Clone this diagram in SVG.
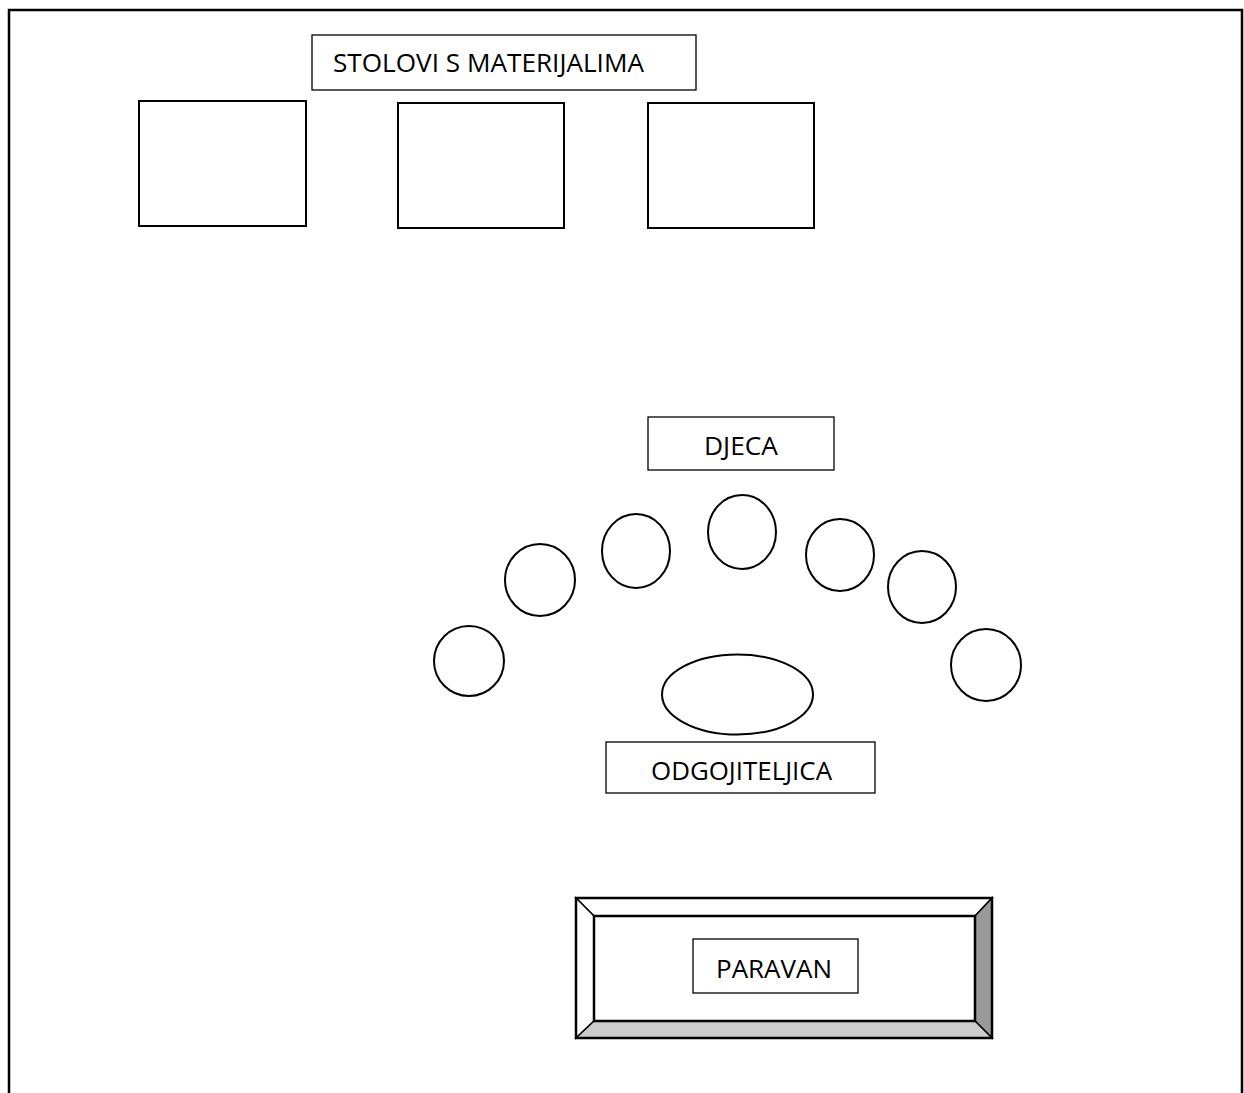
<svg xmlns="http://www.w3.org/2000/svg" width="1244" height="1093" viewBox="0 0 1244 1093">
<style>
.s{fill:#fff;stroke:#000;stroke-width:2}
.b{fill:#fff;stroke:#000;stroke-width:1.3}
.t{font-family:"Open Sans","Liberation Sans",sans-serif;font-size:25px;fill:#000;text-anchor:middle}
</style>
<rect width="1244" height="1093" fill="#fff"/>
<path d="M9 1093 V10 H1242 V1093" fill="none" stroke="#000" stroke-width="2.5"/>
<g id="label-stolovi"><rect class="b" x="312" y="35" width="384" height="55"/><text class="t" x="488.5" y="72" textLength="311" lengthAdjust="spacingAndGlyphs">STOLOVI S MATERIJALIMA</text></g>
<g id="table1"><rect class="s" x="139" y="101" width="167" height="125"/></g>
<g id="table2"><rect class="s" x="398" y="103" width="166" height="125"/></g>
<g id="table3"><rect class="s" x="648" y="103" width="166" height="125"/></g>
<g id="label-djeca"><rect class="b" x="648" y="417" width="186" height="53"/><text class="t" x="741" y="455" textLength="74" lengthAdjust="spacingAndGlyphs">DJECA</text></g>
<g id="child1"><ellipse class="s" cx="469" cy="661" rx="35" ry="35"/></g>
<g id="child2"><ellipse class="s" cx="540" cy="580" rx="35" ry="36"/></g>
<g id="child3"><ellipse class="s" cx="636" cy="551" rx="34" ry="37"/></g>
<g id="child4"><ellipse class="s" cx="742" cy="532" rx="34" ry="37"/></g>
<g id="child5"><ellipse class="s" cx="840" cy="555" rx="34" ry="36"/></g>
<g id="child6"><ellipse class="s" cx="922" cy="587" rx="34" ry="36"/></g>
<g id="child7"><ellipse class="s" cx="986" cy="665" rx="35" ry="36"/></g>
<g id="teacher"><ellipse class="s" cx="737.5" cy="694.5" rx="75.5" ry="40"/></g>
<g id="label-odgojiteljica"><rect class="b" x="606" y="742" width="269" height="51"/><text class="t" x="741.5" y="780" textLength="181" lengthAdjust="spacingAndGlyphs">ODGOJITELJICA</text></g>
<g id="paravan">
<polygon points="576,898 992,898 975,916 594,916" fill="#fff" stroke="#000" stroke-width="1.5"/>
<polygon points="576,898 594,916 594,1021 576,1038" fill="#fff" stroke="#000" stroke-width="1.5"/>
<polygon points="992,898 992,1038 975,1021 975,916" fill="#999" stroke="#000" stroke-width="1.5"/>
<polygon points="576,1038 594,1021 975,1021 992,1038" fill="#ccc" stroke="#000" stroke-width="1.5"/>
<rect x="576" y="898" width="416" height="140" fill="none" stroke="#000" stroke-width="2.5"/>
<rect x="594" y="916" width="381" height="105" fill="#fff" stroke="#000" stroke-width="2.5"/>
<rect class="b" x="693" y="939" width="165" height="54"/><text class="t" x="774" y="978" textLength="116" lengthAdjust="spacingAndGlyphs">PARAVAN</text>
</g>
</svg>
